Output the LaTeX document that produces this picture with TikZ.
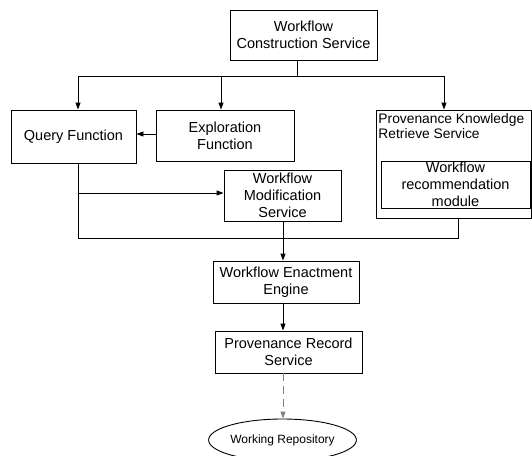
\documentclass[tikz,border=0pt]{standalone}
\usepackage{fontspec}
\setmainfont{Liberation Sans}
\usetikzlibrary{arrows.meta,shapes.geometric}
\begin{document}
\begin{tikzpicture}[x=1pt,y=-1pt,
  line width=0.9pt,
  box/.style={draw, rectangle, inner sep=1pt, align=center, font=\fontsize{14.5}{16.8}\selectfont},
  arr/.style={-{Triangle[length=7pt,width=5pt]}},
  ]
\useasboundingbox (0,0) rectangle (532,455);
\node[box, minimum width=147pt, minimum height=50pt] (wcs) at (303.5,35) {Workflow\\Construction Service};
\node[box, minimum width=125pt, minimum height=53pt] (query) at (73.5,136.5) {Query Function};
\node[box, minimum width=138pt, minimum height=51pt] (explore) at (225,135.5) {Exploration\\Function};
\node[draw, rectangle, minimum width=155pt, minimum height=108pt] (pk) at (453.5,164) {};
\node[anchor=north west, inner sep=1pt, align=left, font=\fontsize{13.8}{15.5}\selectfont] (pktitle) at (377,112) {Provenance Knowledge\\Retrieve Service};
\node[box, minimum width=149pt, minimum height=47pt] (rec) at (455.5,184.5) {Workflow\\recommendation\\module};
\node[box, minimum width=117pt, minimum height=51pt] (mod) at (282.5,195.5) {Workflow\\Modification\\Service};
\node[box, minimum width=146pt, minimum height=42pt] (enact) at (286,282) {Workflow Enactment\\Engine};
\node[box, minimum width=147pt, minimum height=42pt] (record) at (288.5,352) {Provenance Record\\Service};
\node[draw, ellipse, minimum width=129pt, minimum height=42pt, inner sep=0pt, font=\fontsize{12}{14}\selectfont] (repo) at (282.5,440) {Working Repository};

\coordinate (bt) at (297,76);
\coordinate (b1) at (78,76);
\coordinate (b2) at (221,76);
\coordinate (b3) at (444,76);
\draw (wcs.south -| bt) -- (bt);
\draw (b1) -- (b3);
\draw[arr] (b1) -- (b1 |- query.north);
\draw[arr] (b2) -- (b2 |- explore.north);
\draw[arr] (b3) -- (b3 |- pk.north);
\coordinate (e1) at (156,134);
\draw[arr] (e1 -| explore.west) -- (e1 -| query.east);

\coordinate (c1) at (78,238);
\coordinate (c2) at (458,238);
\coordinate (mb) at (283,238);
\coordinate (m1) at (78,193);
\draw (query.south -| c1) -- (c1) -- (c2) -- (c2 |- pk.south);
\draw[arr] (m1) -- (m1 -| mod.west);
\draw[arr] (mod.south -| mb) -- (mb |- enact.north);
\draw[arr] (enact.south -| mb) -- (mb |- record.north);
\draw[arr, gray, dash pattern=on 8pt off 5pt] (record.south -| mb) -- (mb |- repo.north);
\end{tikzpicture}
\end{document}
